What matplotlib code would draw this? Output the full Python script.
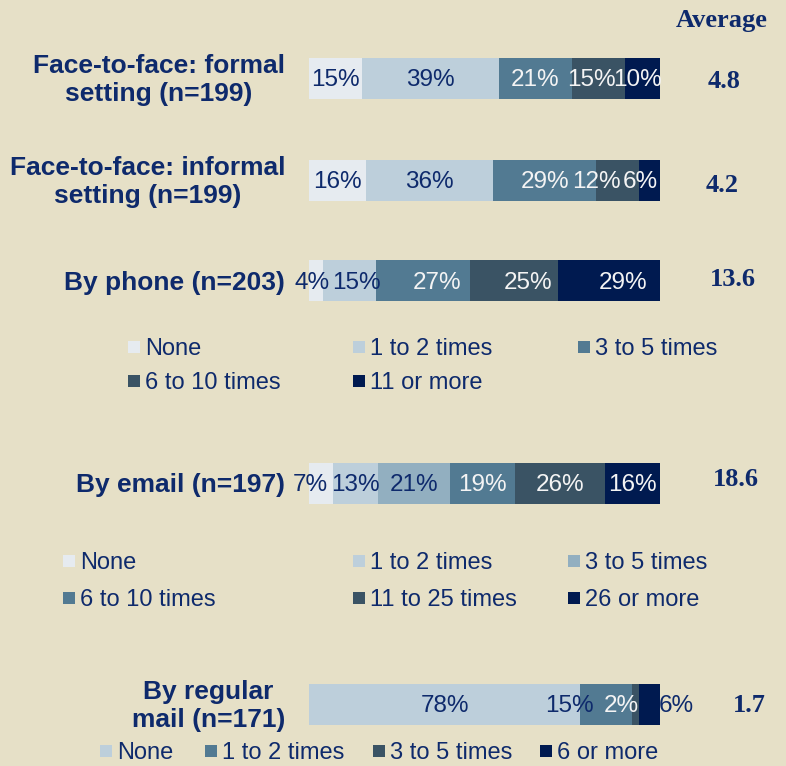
import matplotlib
matplotlib.use("Agg")
import matplotlib.pyplot as plt
from matplotlib.patches import Rectangle

# ---- data ----------------------------------------------------------------
groups = ["Face-to-face: formal\nsetting (n=199)",
          "Face-to-face: informal\nsetting (n=199)",
          "By phone (n=203)",
          "By email (n=197)",
          "By regular\nmail (n=171)"]
averages = ["4.8", "4.2", "13.6", "18.6", "1.7"]

formal_vals = [15, 39, 21, 15, 10]
informal_vals = [16, 36, 29, 12, 6]
phone_vals = [4, 15, 27, 25, 29]
email_vals = [7, 13, 21, 19, 26, 16]
mail_vals = [78, 15, 2, 6]

legend_5 = ["None", "1 to 2 times", "3 to 5 times", "6 to 10 times", "11 or more"]
legend_email = ["None", "1 to 2 times", "3 to 5 times",
                "6 to 10 times", "11 to 25 times", "26 or more"]
legend_mail = ["None", "1 to 2 times", "3 to 5 times", "6 or more"]

# ---- style ---------------------------------------------------------------
BG = "#E6E0C7"
NAVY_TXT = "#0E2A6C"
WHITE_TXT = "#F4F4F4"
c_none = "#E6EBF0"
c_light = "#BDCFDB"
c_mlight = "#92AFC0"
c_mid = "#527A92"
c_dark = "#3A5364"
c_navy = "#001A50"

cols5 = [c_none, c_light, c_mid, c_dark, c_navy]
cols6 = [c_none, c_light, c_mlight, c_mid, c_dark, c_navy]
cols4 = [c_light, c_mid, c_dark, c_navy]

W, H = 786, 766
fig = plt.figure(figsize=(W / 100, H / 100), dpi=100, facecolor=BG)

# overlay axes in pixel units for the texts and legends
ov = fig.add_axes([0, 0, 1, 1])
ov.set_xlim(0, W)
ov.set_ylim(H, 0)
ov.axis("off")
ov.set_facecolor("none")

bars = [
    # values, colours, label text colours, label offsets (in %), centre y, avg x, avg y
    (formal_vals, cols5, "nnwww", [0, 0, 0, -2, -1.3], 78, 708, 82),
    (informal_vals, cols5, "nnwww", [0, 0, 0, -6, -2.5], 180, 706, 185),
    (phone_vals, cols5, "nnwww", [-1, 2, 4, 4, 4], 281, 710, 279),
    (email_vals, cols6, "nnnwww", [-3, 0, 0, 0, 0, 0], 483, 713, 480),
    (mail_vals, cols4, "nnwn", [0, -10.5, -4, 7.5], 704, 733, 705),
]

bar_left, bar_w, bar_h = 309, 351, 41
for i, (vals, cols, tcols, offs, cy, ax_x, ay) in enumerate(bars):
    ax = fig.add_axes([bar_left / W, 1 - (cy + bar_h / 2) / H, bar_w / W, bar_h / H])
    total = float(sum(vals))
    left = 0.0
    for v, c, tc, off in zip(vals, cols, tcols, offs):
        w = v / total * 100
        ax.barh(0, w, left=left, height=1, color=c, edgecolor="none")
        ax.text(left + w / 2 + off, -0.06, f"{v}%", ha="center", va="center",
                fontsize=17.5, family="Liberation Sans",
                color=NAVY_TXT if tc == "n" else WHITE_TXT, clip_on=False)
        left += w
    ax.set_xlim(0, 100)
    ax.set_ylim(-0.5, 0.5)
    ax.axis("off")

    ov.text(285, cy + 2, groups[i], ha="right", va="center", multialignment="center",
            fontsize=19, fontweight="bold", family="Liberation Sans",
            color=NAVY_TXT, linespacing=1.2)
    ov.text(ax_x, ay, averages[i], ha="left", va="center", fontsize=19,
            fontweight="bold", family="Liberation Serif", color=NAVY_TXT)

ov.text(722, 21, "Average", ha="center", va="center", fontsize=19,
        fontweight="bold", family="Liberation Serif", color=NAVY_TXT)


def draw_legend(labels, colors, xs, ys, ncol):
    for k, (lab, c) in enumerate(zip(labels, colors)):
        x = xs[k % ncol]
        y = ys[k // ncol]
        ov.add_patch(Rectangle((x - 17, y - 6), 12, 12, facecolor=c, edgecolor="none"))
        ov.text(x, y + 2, lab, ha="left", va="center", fontsize=17,
                family="Liberation Sans", color=NAVY_TXT)


draw_legend(legend_5, cols5, [145, 370, 595], [347, 381], 3)
draw_legend(legend_email, cols6, [80, 370, 585], [561, 598], 3)
draw_legend(legend_mail, cols4, [117, 222, 390, 557], [751], 4)

fig.savefig("out.png", dpi=100, facecolor=BG)
